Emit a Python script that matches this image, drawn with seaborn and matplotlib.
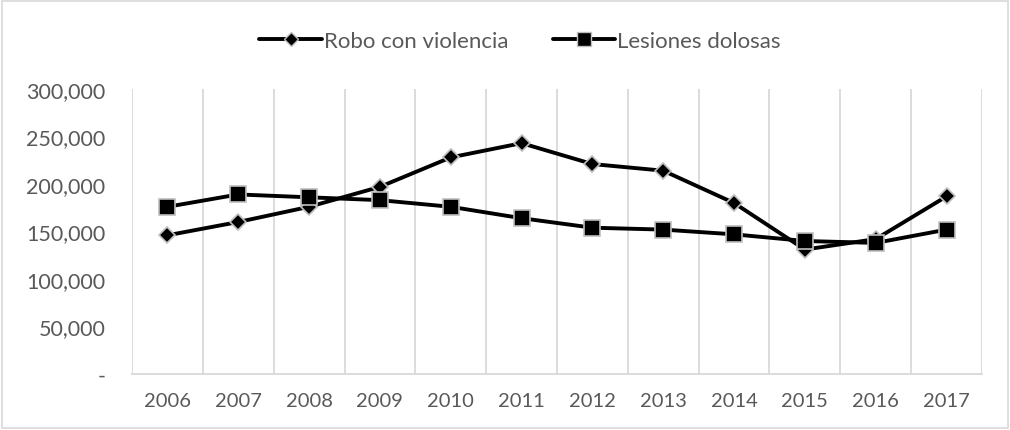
import numpy as np
import pandas as pd
import seaborn as sns
import matplotlib.pyplot as plt
from matplotlib.ticker import FuncFormatter

years = ['2006', '2007', '2008', '2009', '2010', '2011', '2012', '2013', '2014', '2015', '2016', '2017']
robo = [146000, 160000, 176000, 197000, 228000, 243000, 221000, 214000, 180000, 131000, 142000, 187000]
lesiones = [176000, 189000, 186000, 183000, 176000, 164000, 154000, 152000, 147000, 140000, 138000, 152000]
series_names = ['Robo con violencia', 'Lesiones dolosas']

df = pd.DataFrame({
    'pos': list(range(len(years))) * 2,
    'valor': robo + lesiones,
    'serie': [series_names[0]] * len(years) + [series_names[1]] * len(years),
})

sns.set_style('white')
plt.rcParams['font.family'] = ['Lato', 'DejaVu Sans']
txt = '#595959'
grid = '#d9d9d9'

fig = plt.figure(figsize=(10.1, 4.31), dpi=100)
ax = fig.add_axes([132/1010, 1 - 375/431, 850/1010, 285/431])

sns.lineplot(data=df, x='pos', y='valor', hue='serie', style='serie',
             palette=['black', 'black'], markers={series_names[0]: 'D', series_names[1]: 's'},
             dashes=False, linewidth=2.8, ax=ax, legend=False)
# marker sizes / edge colours per series
for line, ms in zip(ax.lines, [8, 11]):
    line.set_markersize(ms)
    line.set_markeredgecolor('#bfbfbf')
    line.set_markeredgewidth(1.2)

ax.set_xlim(-0.5, len(years) - 0.5)
ax.set_ylim(0, 300000)
ax.set_xticks(range(len(years)))
ax.set_xticklabels(years)
ax.set_xticks(np.arange(-0.5, len(years), 1), minor=True)
ax.set_yticks(np.arange(0, 300001, 50000))
ax.yaxis.set_major_formatter(FuncFormatter(lambda v, p: '-' if v == 0 else f'{int(v):,}'))
ax.grid(False)
ax.grid(True, which='minor', axis='x', color=grid, linewidth=1.3)
ax.tick_params(axis='both', which='both', length=0, colors=txt)
ax.tick_params(axis='y', labelsize=15.5, pad=19)
ax.tick_params(axis='x', labelsize=14.5, pad=13)
for s in ['top', 'right', 'left']:
    ax.spines[s].set_visible(False)
ax.spines['bottom'].set_color(grid)
ax.spines['bottom'].set_linewidth(1.3)
ax.set_xlabel('')
ax.set_ylabel('')

handles = [plt.Line2D([], [], color='black', lw=2.8, marker=m, markersize=s,
                      markeredgecolor='#bfbfbf', markeredgewidth=1.0)
           for m, s in [('D', 7), ('s', 10)]]
fig.legend(handles, series_names, loc='center', bbox_to_anchor=(0.515, 1 - 42/431), ncol=2,
           frameon=False, fontsize=16, labelcolor=txt, handlelength=2.8,
           handletextpad=0.1, columnspacing=2.0)

fig.add_artist(plt.Rectangle((0.002, 0.004), 0.996, 0.992, transform=fig.transFigure,
                             fill=False, edgecolor=grid, linewidth=1.2))

fig.savefig('out.png', dpi=100)
